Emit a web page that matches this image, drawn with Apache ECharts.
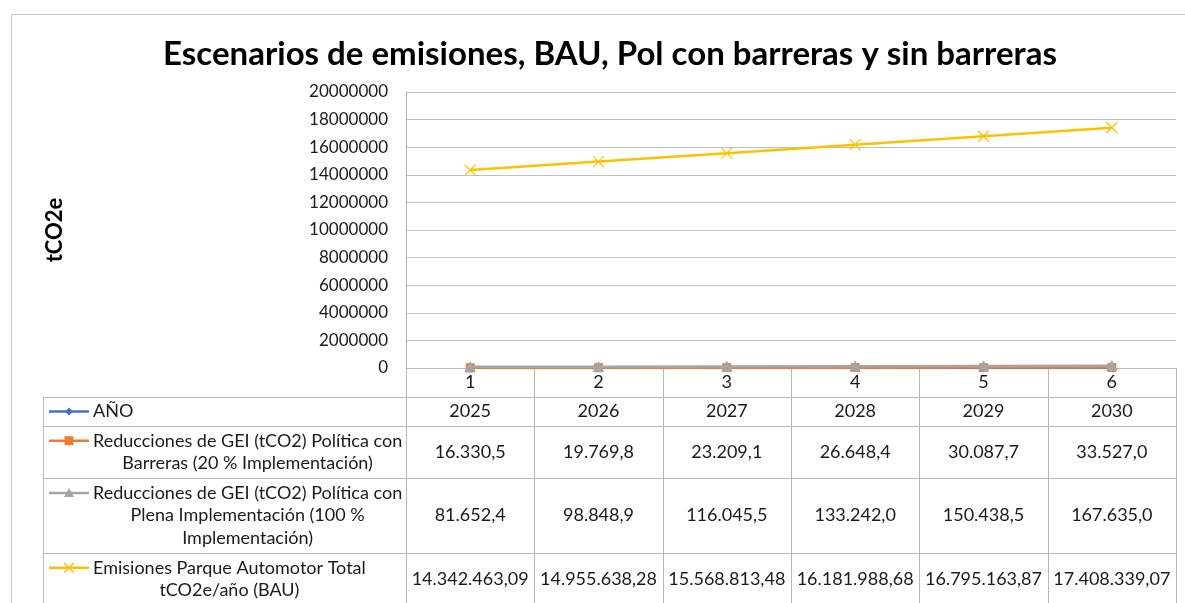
<!DOCTYPE html>
<html>
<head>
<meta charset="utf-8">
<script src="https://cdn.jsdelivr.net/npm/echarts@6/dist/echarts.min.js"></script>
<style>
html, body { margin: 0; padding: 0; background: #fff; }
#chart-panel { width: 1185px; height: 603px; }
</style>
</head>
<body>
<div id="chart-panel"></div>
<script>
// datos
var categorias = ['1', '2', '3', '4', '5', '6'];
var anio = [2025, 2026, 2027, 2028, 2029, 2030];
var conBarreras = [16330.5, 19769.8, 23209.1, 26648.4, 30087.7, 33527.0];
var plena = [81652.4, 98848.9, 116045.5, 133242.0, 150438.5, 167635.0];
var bau = [14342463.09, 14955638.28, 15568813.48, 16181988.68, 16795163.87, 17408339.07];
var nombres = [
  'AÑO',
  'Reducciones de GEI (tCO2) Política con\nBarreras (20 % Implementación)',
  'Reducciones de GEI (tCO2) Política con\nPlena Implementación (100 %\nImplementación)',
  'Emisiones Parque Automotor Total\ntCO2e/año (BAU)'
];
var decimales = [0, 1, 1, 2];
var colores = ['#4472C4', '#ED7D31', '#A5A5A5', '#FFC000'];

var FONT = 'Lato, "Open Sans", sans-serif';
var lineaGris = '#b8b8b8';

function fmt(v, d) {
  if (d === 0) return String(v);
  var s = v.toFixed(d).split('.');
  var ent = s[0].replace(/\B(?=(\d{3})+(?!\d))/g, '.');
  return ent + ',' + s[1];
}

var ctx = document.createElement('canvas').getContext('2d');
function ancho(t, font) {
  ctx.font = font;
  return Math.max.apply(null, t.split('\n').map(function (l) { return ctx.measureText(l).width; }));
}

var chart = document.getElementById('chart-panel');
var myChart = echarts.init(chart);

var series = [anio, conBarreras, plena, bau];
var simbolos = ['diamond', 'rect', 'triangle', 'path://M0,0L10,10M10,0L0,10'];
var tamanos = [8, 8, 10, 11];

var option = {
  animation: false,
  title: {
    text: 'Escenarios de emisiones, BAU, Pol con barreras y sin barreras',
    left: 605,
    top: 33,
    textAlign: 'center',
    textStyle: { fontFamily: FONT, fontWeight: 'bold', fontSize: 33, color: '#000' }
  },
  grid: { left: 406, right: 9, top: 92, bottom: 235 },
  xAxis: {
    type: 'category',
    data: categorias,
    boundaryGap: true,
    axisLine: { lineStyle: { color: lineaGris, width: 1 } },
    axisTick: { show: false },
    axisLabel: { margin: 5, fontFamily: FONT, fontSize: 18, color: '#1a1a1a' }
  },
  yAxis: {
    type: 'value',
    min: 0,
    max: 20000000,
    interval: 2000000,
    name: 'tCO2e',
    nameLocation: 'middle',
    nameRotate: 90,
    nameGap: 340,
    nameTextStyle: { fontFamily: FONT, fontWeight: 'bold', fontSize: 22, color: '#000' },
    axisLine: { show: true, lineStyle: { color: lineaGris, width: 1 } },
    axisTick: { show: false },
    splitLine: { lineStyle: { color: '#bfbfbf', width: 1 } },
    axisLabel: {
      margin: 18, fontFamily: FONT, fontSize: 17, color: '#1a1a1a',
      formatter: function (v) { return String(v); }
    }
  },
  series: series.map(function (d, i) {
    var x = i === 3;
    return {
      name: nombres[i],
      type: 'line',
      data: d,
      symbol: simbolos[i],
      symbolSize: tamanos[i],
      lineStyle: { color: colores[i], width: 2.5 },
      itemStyle: x
        ? { color: 'rgba(0,0,0,0)', borderColor: colores[i], borderWidth: 1.2 }
        : { color: colores[i], borderColor: colores[i] },
      z: 2 + i
    };
  })
};
myChart.setOption(option);

// tabla de datos debajo del eje
var centros = categorias.map(function (c, i) {
  return myChart.convertToPixel({ xAxisIndex: 0 }, i);
});
var banda = centros[1] - centros[0];
var xIzq = centros[0] - banda / 2;
var xDer = centros[centros.length - 1] + banda / 2;
var y0 = myChart.convertToPixel({ yAxisIndex: 0 }, 0);
var altoFilas = [29, 29, 52, 75, 52];
var yFilas = [y0];
altoFilas.forEach(function (h) { yFilas.push(yFilas[yFilas.length - 1] + h); });
var xTabla = 43;
var xTexto = 93;
var lh = 22.5;
var fuenteTabla = 'normal 18px ' + FONT;

var g = [];
function linea(x1, y1, x2, y2, color, w) {
  g.push({ type: 'line', shape: { x1: x1, y1: y1, x2: x2, y2: y2 }, style: { stroke: color || lineaGris, lineWidth: w || 1 }, silent: true });
}
function texto(t, x, y, align) {
  g.push({
    type: 'text', silent: true,
    style: { text: t, x: x, y: y, align: align, verticalAlign: 'middle', font: fuenteTabla, fill: '#1a1a1a', lineHeight: lh }
  });
}

// borde del área del gráfico
linea(11.5, 14, 11.5, 603, '#c8c8c8');
linea(11, 14.5, 1185, 14.5, '#c8c8c8');

// lineas horizontales de la tabla
for (var r = 1; r < yFilas.length - 1; r++) linea(xTabla, Math.round(yFilas[r]) + 0.5, xDer, Math.round(yFilas[r]) + 0.5);
// verticales
linea(xTabla + 0.5, yFilas[1], xTabla + 0.5, 603);
for (var c = 0; c <= categorias.length; c++) {
  var xc = Math.round(xIzq + c * banda) + 0.5;
  linea(xc, y0, xc, 603);
}

// filas con leyenda y valores
series.forEach(function (d, i) {
  var top = yFilas[i + 1], bot = yFilas[i + 2];
  var mid = (top + bot) / 2;
  var nl = nombres[i].split('\n').length;
  var yPrimera = mid - (nl - 1) * lh / 2;
  // clave de leyenda
  var col = colores[i];
  linea(49, yPrimera, 89, yPrimera, col, 2.5);
  var cx = 69, cy = yPrimera;
  if (i === 0) g.push({ type: 'polygon', shape: { points: [[cx, cy - 4], [cx + 4, cy], [cx, cy + 4], [cx - 4, cy]] }, style: { fill: col }, silent: true });
  if (i === 1) g.push({ type: 'rect', shape: { x: cx - 4.5, y: cy - 4.5, width: 9, height: 9 }, style: { fill: col }, silent: true });
  if (i === 2) g.push({ type: 'polygon', shape: { points: [[cx, cy - 5], [cx + 5, cy + 4], [cx - 5, cy + 4]] }, style: { fill: col }, silent: true });
  if (i === 3) { linea(cx - 5, cy - 5, cx + 5, cy + 5, col, 1.2); linea(cx - 5, cy + 5, cx + 5, cy - 5, col, 1.2); }
  var w = ancho(nombres[i], fuenteTabla);
  texto(nombres[i], xTexto + w / 2, mid, 'center');
  d.forEach(function (v, k) {
    texto(fmt(v, decimales[i]), centros[k], mid, 'center');
  });
});

myChart.setOption({ graphic: g });
</script>
</body>
</html>
